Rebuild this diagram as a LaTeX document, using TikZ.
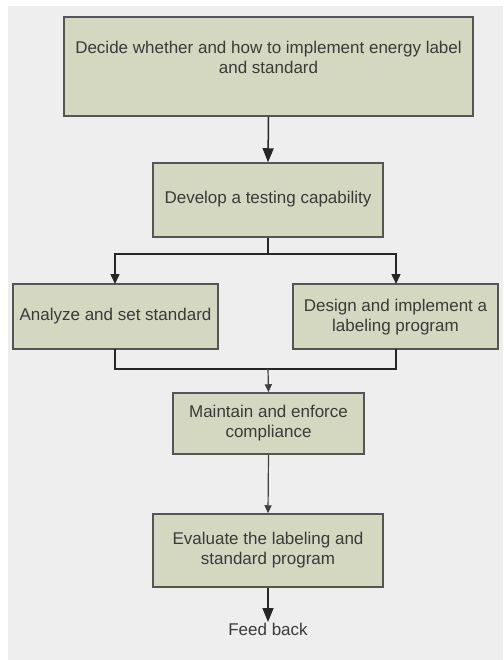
\documentclass[tikz,border=0pt]{standalone}
\usepackage{fontspec}
\setmainfont{Liberation Sans}
\usetikzlibrary{arrows.meta}
\definecolor{panel}{HTML}{EEEEEE}
\definecolor{boxfill}{HTML}{D4D8C1}
\definecolor{boxline}{HTML}{555555}
\definecolor{txtcol}{HTML}{3A3A3A}
\tikzset{
  box/.style={draw=boxline, fill=boxfill, line width=1.5pt, inner sep=0pt},
  txt/.style={text=txtcol, font=\fontsize{17}{20}\selectfont, align=center, inner sep=0pt},
  thick conn/.style={draw=black!85, line width=1.5pt},
  thin conn/.style={draw=black!75, line width=1.2pt},
  bigtip/.style={-{Triangle[length=14pt,width=11pt]}},
  midtip/.style={-{Triangle[length=10pt,width=9pt]}},
  smalltip/.style={-{Triangle[length=8pt,width=7pt]}}
}
\begin{document}
\begin{tikzpicture}[x=1pt,y=-1pt]
\useasboundingbox (0,0) rectangle (503,660);
\fill[panel] (8,6) rectangle (503,660);
% boxes
\node[box, minimum width=409pt, minimum height=99pt] (b1) at (268.5,66.5) {};
\node[txt] (t1) at (268.5,57) {Decide whether and how to implement energy label\\and standard};
\node[box, minimum width=230pt, minimum height=74pt] (b2) at (268,200) {};
\node[txt] (t2) at (268,199) {Develop a testing capability};
\node[box, minimum width=205pt, minimum height=65pt] (b3) at (115.5,316.5) {};
\node[txt] (t3) at (115.5,316) {Analyze and set standard};
\node[box, minimum width=205pt, minimum height=65pt] (b4) at (395.5,316.5) {};
\node[txt] (t4) at (395.5,317) {Design and implement a\\labeling program};
\node[box, minimum width=191pt, minimum height=61pt] (b5) at (268.5,423.5) {};
\node[txt] (t5) at (268.5,423) {Maintain and enforce\\compliance};
\node[box, minimum width=230pt, minimum height=73pt] (b6) at (268,550.5) {};
\node[txt] (t6) at (268,550.5) {Evaluate the labeling and\\standard program};
\node[txt] (fb) at (268,629) {Feed back};
% connectors
\coordinate (split) at (268,254);
\coordinate (join) at (268,369);
\coordinate (b3top) at (115,284);
\coordinate (b4top) at (396,284);
\coordinate (b3bot) at (115,349);
\coordinate (b4bot) at (396,349);
\coordinate (fbend) at (268,622);
\draw[thick conn, bigtip] (b1.south) -- (b2.north);
\draw[thick conn] (b2.south) -- (split);
\draw[thick conn, midtip] (split) -| (b3top);
\draw[thick conn, midtip] (split) -| (b4top);
\draw[thick conn] (b3bot) |- (join);
\draw[thick conn] (b4bot) |- (join);
\draw[thin conn, smalltip] (join) -- (b5.north);
\draw[thin conn, smalltip] (b5.south) -- (b6.north);
\draw[thick conn, bigtip] (b6.south) -- (fbend);
\end{tikzpicture}
\end{document}
